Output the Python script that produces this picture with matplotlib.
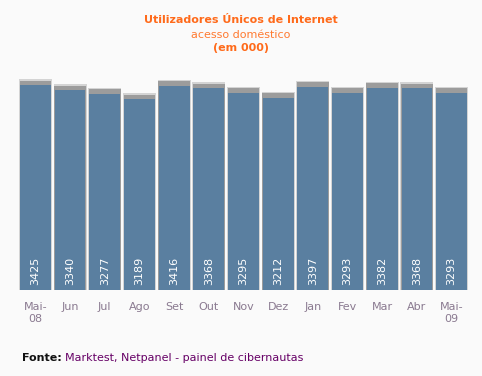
import matplotlib.pyplot as plt
import numpy as np

meses = ["Mai-\n08", "Jun", "Jul", "Ago", "Set", "Out", "Nov", "Dez",
         "Jan", "Fev", "Mar", "Abr", "Mai-\n09"]
valores = [3425, 3340, 3277, 3189, 3416, 3368, 3295, 3212,
           3397, 3293, 3382, 3368, 3293]

bg = "#fafafa"
fig = plt.figure(figsize=(4.82, 3.76), dpi=100, facecolor=bg)
H = 376
ymax = 3700
bottom_px = 290
top_px = bottom_px - 205 * ymax / 3425
ax = fig.add_axes([18 / 482, (H - bottom_px) / H, 451 / 482, (bottom_px - top_px) / H])
ax.set_facecolor(bg)

x = np.arange(len(valores))
# sombra atrás das barras
ax.bar(x, np.array(valores) + 100, width=0.95, color="#d4d4d4", zorder=1)
ax.bar(x, np.array(valores) + 75, width=0.91, color="#9c9c9c", zorder=2)
ax.bar(x, valores, width=0.89, color="#5a7fa0", zorder=3)

for xi, v in zip(x, valores):
    ax.text(xi, 80, str(v), rotation=90, ha="center", va="bottom",
            color="white", fontsize=8, zorder=4)

ax.set_xlim(-0.5, len(valores) - 0.5)
ax.set_ylim(0, ymax)
ax.set_xticks(x)
ax.set_xticklabels(meses, color="#8a7a90", fontsize=8, linespacing=1.25)
ax.tick_params(axis="x", length=0, pad=9)
ax.set_yticks([])
for s in ax.spines.values():
    s.set_visible(False)

fig.text(0.5, 1 - 20 / H, "Utilizadores Únicos de Internet", ha="center", va="center",
         color="#ff6a1a", fontsize=8, fontweight="bold")
fig.text(0.5, 1 - 35 / H, "acesso doméstico", ha="center", va="center",
         color="#ff7a30", fontsize=8)
fig.text(0.5, 1 - 48 / H, "(em 000)", ha="center", va="center",
         color="#ff6a1a", fontsize=8, fontweight="bold")

fig.text(22 / 482, 1 - 358 / H, "Fonte:", ha="left", va="center",
         color="#111111", fontsize=8, fontweight="bold")
fig.text(65 / 482, 1 - 358 / H, "Marktest, Netpanel - painel de cibernautas",
         ha="left", va="center", color="#660066", fontsize=8)

fig.savefig("out.png", dpi=100, facecolor=bg)
